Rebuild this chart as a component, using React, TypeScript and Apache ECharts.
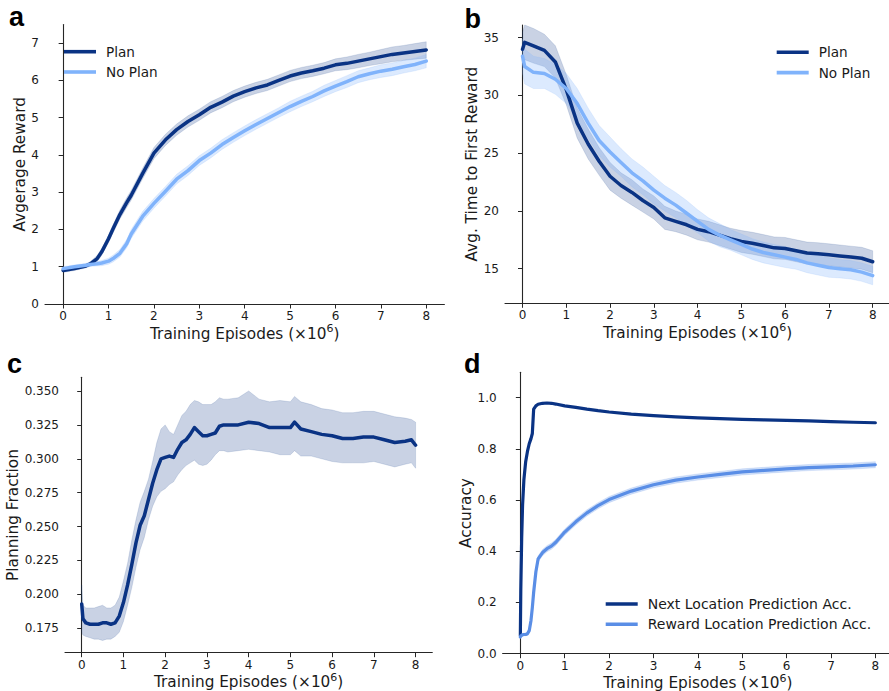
import React, { useEffect, useRef } from "react";
import * as echarts from "echarts";

// ---------- tick values ----------
const X_TICKS = [0, 1, 2, 3, 4, 5, 6, 7, 8];
const A_Y_TICKS = [0, 1, 2, 3, 4, 5, 6, 7];
const B_Y_TICKS = [15, 20, 25, 30, 35];
const C_Y_TICKS = [0.175, 0.2, 0.225, 0.25, 0.275, 0.3, 0.325, 0.35];
const D_Y_TICKS = [0, 0.2, 0.4, 0.6, 0.8, 1.0];

// ---------- panel a: average reward ----------
const aX = [0, 0.25, 0.5, 0.6, 0.75, 0.85, 1, 1.1, 1.25, 1.4, 1.5, 1.75, 2, 2.25, 2.5, 2.75, 3, 3.25, 3.5, 3.75, 4, 4.25, 4.5, 4.75, 5, 5.25, 5.5, 5.75, 6, 6.25, 6.5, 6.75, 7, 7.25, 7.5, 7.75, 8];
const aPlan = [0.9, 0.95, 1.02, 1.08, 1.22, 1.4, 1.75, 2.02, 2.4, 2.72, 2.92, 3.5, 4.05, 4.4, 4.68, 4.9, 5.08, 5.28, 5.42, 5.58, 5.7, 5.8, 5.88, 6.0, 6.12, 6.2, 6.26, 6.33, 6.42, 6.46, 6.52, 6.58, 6.64, 6.7, 6.74, 6.78, 6.82];
const aPlanSpread = [0.05, 0.05, 0.05, 0.06, 0.08, 0.09, 0.1, 0.11, 0.12, 0.13, 0.13, 0.14, 0.15, 0.15, 0.15, 0.15, 0.15, 0.15, 0.15, 0.15, 0.15, 0.15, 0.15, 0.15, 0.15, 0.15, 0.15, 0.15, 0.16, 0.17, 0.18, 0.18, 0.19, 0.2, 0.2, 0.21, 0.22];
const aNoPlan = [0.95, 1.0, 1.04, 1.06, 1.08, 1.1, 1.15, 1.22, 1.36, 1.62, 1.88, 2.35, 2.7, 3.02, 3.35, 3.58, 3.85, 4.05, 4.28, 4.47, 4.65, 4.82, 4.98, 5.14, 5.3, 5.44, 5.57, 5.72, 5.85, 5.97, 6.1, 6.18, 6.25, 6.3, 6.37, 6.43, 6.52];
const aNoPlanSpread = [0.05, 0.05, 0.05, 0.05, 0.06, 0.07, 0.08, 0.09, 0.1, 0.11, 0.12, 0.13, 0.13, 0.13, 0.13, 0.13, 0.13, 0.13, 0.13, 0.13, 0.13, 0.13, 0.13, 0.13, 0.14, 0.14, 0.14, 0.15, 0.15, 0.16, 0.16, 0.16, 0.17, 0.17, 0.17, 0.17, 0.18];

// ---------- panel b: time to first reward ----------
const bX = [0, 0.05, 0.25, 0.5, 0.75, 1, 1.25, 1.5, 1.75, 2, 2.25, 2.5, 2.75, 3, 3.25, 3.5, 3.75, 4, 4.25, 4.5, 4.75, 5, 5.25, 5.5, 5.75, 6, 6.25, 6.5, 6.75, 7, 7.25, 7.5, 7.75, 8];
const bPlan = [34.0, 34.6, 34.3, 33.9, 32.9, 30.5, 27.6, 25.8, 24.3, 23.0, 22.2, 21.6, 20.9, 20.3, 19.4, 19.1, 18.8, 18.4, 18.2, 17.9, 17.6, 17.35, 17.2, 17.0, 16.8, 16.75, 16.55, 16.35, 16.3, 16.2, 16.1, 16.0, 15.9, 15.6];
const bPlanSpread = [1.5, 1.5, 1.5, 1.4, 1.4, 1.3, 1.3, 1.3, 1.2, 1.2, 1.1, 1.1, 1.0, 1.0, 1.0, 0.9, 0.9, 0.9, 0.9, 0.9, 0.9, 0.95, 0.95, 0.95, 0.95, 0.95, 0.95, 0.95, 0.95, 0.95, 0.95, 0.95, 0.95, 0.95];
const bNoPlan = [33.4, 32.5, 32.0, 31.9, 31.4, 30.6, 29.3, 27.6, 26.1, 25.1, 24.2, 23.3, 22.6, 21.8, 21.1, 20.5, 19.8, 19.1, 18.4, 17.9, 17.5, 17.1, 16.7, 16.4, 16.2, 16.0, 15.8, 15.5, 15.3, 15.1, 15.0, 14.9, 14.7, 14.4];
const bNoPlanSpread = [1.5, 1.5, 1.4, 1.3, 1.3, 1.3, 1.3, 1.3, 1.3, 1.3, 1.2, 1.2, 1.2, 1.2, 1.1, 1.1, 1.1, 1.0, 1.0, 1.0, 0.9, 0.9, 0.9, 0.9, 0.9, 0.9, 0.85, 0.85, 0.85, 0.85, 0.8, 0.8, 0.8, 0.8];

// ---------- panel c: planning fraction ----------
const cX = [0, 0.03, 0.1, 0.2, 0.3, 0.4, 0.5, 0.6, 0.7, 0.8, 0.9, 1.0, 1.1, 1.2, 1.3, 1.4, 1.5, 1.6, 1.7, 1.8, 1.9, 2.0, 2.1, 2.2, 2.3, 2.4, 2.5, 2.6, 2.7, 2.8, 2.9, 3.0, 3.1, 3.2, 3.3, 3.4, 3.5, 3.75, 4.0, 4.25, 4.5, 4.75, 5.0, 5.1, 5.25, 5.5, 5.75, 6.0, 6.25, 6.5, 6.75, 7.0, 7.25, 7.5, 7.75, 7.9, 8.0];
const cMean = [0.193, 0.182, 0.179, 0.178, 0.178, 0.178, 0.179, 0.179, 0.178, 0.179, 0.184, 0.194, 0.207, 0.222, 0.238, 0.251, 0.258, 0.27, 0.282, 0.292, 0.3, 0.301, 0.302, 0.301, 0.307, 0.312, 0.314, 0.318, 0.323, 0.32, 0.317, 0.317, 0.318, 0.319, 0.324, 0.325, 0.325, 0.325, 0.327, 0.326, 0.323, 0.323, 0.323, 0.327, 0.322, 0.32, 0.318, 0.317, 0.315, 0.315, 0.316, 0.316, 0.314, 0.312, 0.313, 0.314, 0.31];
const cUpper = [0.207, 0.192, 0.19, 0.19, 0.19, 0.191, 0.192, 0.19, 0.19, 0.192, 0.198, 0.21, 0.223, 0.24, 0.255, 0.268, 0.276, 0.285, 0.298, 0.312, 0.322, 0.325, 0.32, 0.318, 0.325, 0.332, 0.335, 0.34, 0.343, 0.342, 0.34, 0.34, 0.34, 0.342, 0.345, 0.344, 0.344, 0.345, 0.35, 0.344, 0.342, 0.343, 0.342, 0.346, 0.342, 0.34, 0.337, 0.336, 0.334, 0.334, 0.335, 0.335, 0.333, 0.331, 0.33, 0.329, 0.327];
const cLower = [0.172, 0.17, 0.169, 0.168, 0.167, 0.167, 0.166, 0.167, 0.167, 0.169, 0.172, 0.18, 0.192, 0.205, 0.22, 0.233, 0.242, 0.255, 0.265, 0.272, 0.276, 0.278, 0.281, 0.283, 0.288, 0.292, 0.295, 0.297, 0.299, 0.296, 0.295, 0.296, 0.299, 0.303, 0.306, 0.306, 0.305, 0.306, 0.307, 0.306, 0.305, 0.303, 0.303, 0.306, 0.302, 0.302, 0.3, 0.298, 0.297, 0.297, 0.297, 0.298, 0.296, 0.294, 0.296, 0.297, 0.293];

// ---------- panel d: accuracy ----------
const dX = [0, 0.01, 0.03, 0.05, 0.08, 0.12, 0.16, 0.2, 0.24, 0.27, 0.3, 0.35, 0.4, 0.5, 0.6, 0.7, 0.8, 1.0, 1.25, 1.5, 1.75, 2.0, 2.5, 3.0, 3.5, 4.0, 4.5, 5.0, 5.5, 6.0, 6.5, 7.0, 7.5, 8.0];
const dNext = [0.07, 0.25, 0.45, 0.58, 0.68, 0.75, 0.79, 0.82, 0.84, 0.86, 0.955, 0.968, 0.974, 0.978, 0.979, 0.978, 0.975, 0.968, 0.962, 0.955, 0.949, 0.944, 0.936, 0.93, 0.925, 0.921, 0.918, 0.915, 0.913, 0.911, 0.909, 0.906, 0.904, 0.902];
const dReward = [0.065, 0.07, 0.072, 0.074, 0.075, 0.075, 0.078, 0.09, 0.13, 0.18, 0.24, 0.32, 0.37, 0.395, 0.41, 0.42, 0.435, 0.475, 0.515, 0.55, 0.578, 0.602, 0.635, 0.66, 0.678, 0.69, 0.7, 0.71, 0.716, 0.722, 0.727, 0.73, 0.733, 0.738];
const dRewardSpread = [0.005, 0.005, 0.005, 0.005, 0.005, 0.005, 0.006, 0.008, 0.01, 0.01, 0.012, 0.012, 0.012, 0.012, 0.012, 0.012, 0.012, 0.012, 0.012, 0.012, 0.012, 0.012, 0.012, 0.012, 0.012, 0.012, 0.012, 0.012, 0.012, 0.012, 0.012, 0.012, 0.012, 0.012];

const SERIES_NAMES_AB = ["Plan", "No Plan"];
const SERIES_NAMES_D = ["Next Location Prediction Acc.", "Reward Location Prediction Acc."];
const X_NAME = "Training Episodes (×10{s|6})";
const Y_NAMES = ["Avgerage Reward", "Avg. Time to First Reward", "Planning Fraction", "Accuracy"];

const DARK = "#0a3384";
const LIGHT = "#80b3fb";
const MID = "#5a8ee6";
const DARK_BAND = "rgba(10,51,132,0.22)";
const LIGHT_BAND = "rgba(128,179,251,0.28)";
const MID_BAND = "rgba(90,142,230,0.28)";
const FONT = "DejaVu Sans";
const AXIS_COLOR = "#262626";
const TEXT_COLOR = "#1a1a1a";

function pairs(xs: number[], ys: number[]) {
  return xs.map((x, i) => [x, ys[i]]);
}

function band(idx: number, xs: number[], lo: number[], hi: number[], fill: string) {
  return {
    type: "custom",
    xAxisIndex: idx,
    yAxisIndex: idx,
    silent: true,
    z: 1,
    data: xs.map((x, i) => [x, lo[i], hi[i]]),
    encode: { x: 0, y: [1, 2] },
    renderItem: (params: any, api: any) => {
      if (params.dataIndex !== 0) return null;
      const top = xs.map((x, i) => api.coord([x, hi[i]]));
      const bot = xs.map((x, i) => api.coord([x, lo[i]])).reverse();
      return {
        type: "polygon",
        shape: { points: top.concat(bot) },
        style: { fill, stroke: fill, lineWidth: 0.6 },
      };
    },
  };
}

function line(idx: number, name: string, xs: number[], ys: number[], color: string, width = 3.5) {
  return {
    type: "line",
    name,
    xAxisIndex: idx,
    yAxisIndex: idx,
    data: pairs(xs, ys),
    showSymbol: false,
    symbol: "none",
    z: 3,
    lineStyle: { color, width, join: "round", cap: "round" },
    itemStyle: { color },
  };
}

function minus(a: number[], s: number[]) {
  return a.map((v, i) => v - s[i]);
}
function plus(a: number[], s: number[]) {
  return a.map((v, i) => v + s[i]);
}

function xAxis(idx: number) {
  return {
    type: "value",
    gridIndex: idx,
    min: -0.4,
    max: 8.4,
    splitLine: { show: false },
    axisLine: { show: true, lineStyle: { color: AXIS_COLOR, width: 1.1 } },
    axisTick: { show: true, customValues: X_TICKS, length: 4.5, lineStyle: { color: AXIS_COLOR, width: 1 } },
    axisLabel: { customValues: X_TICKS, fontSize: 12, color: TEXT_COLOR, fontFamily: FONT, margin: 6 },
    name: X_NAME,
    nameLocation: "middle",
    nameGap: 19,
    nameTextStyle: {
      fontSize: 15.3,
      color: TEXT_COLOR,
      fontFamily: FONT,
      rich: {
        s: { fontSize: 11, color: TEXT_COLOR, fontFamily: FONT, padding: [0, 0, 10, 0] },
      },
    },
  };
}

function yAxis(idx: number, min: number, max: number, ticks: number[], decimals: number, nameGap: number) {
  return {
    type: "value",
    gridIndex: idx,
    min,
    max,
    splitLine: { show: false },
    axisLine: { show: true, lineStyle: { color: AXIS_COLOR, width: 1.1 } },
    axisTick: { show: true, customValues: ticks, length: 4.5, lineStyle: { color: AXIS_COLOR, width: 1 } },
    axisLabel: {
      customValues: ticks,
      fontSize: 12,
      color: TEXT_COLOR,
      fontFamily: FONT,
      margin: 6,
      formatter: (v: number) => v.toFixed(decimals),
    },
    name: Y_NAMES[idx],
    nameLocation: "middle",
    nameGap,
    nameTextStyle: { fontSize: 15.3, color: TEXT_COLOR, fontFamily: FONT },
  };
}

function legend(names: string[], left: number, top: number, fontSize: number) {
  return {
    data: names,
    orient: "vertical",
    left,
    top,
    padding: 0,
    itemGap: 4.3,
    itemWidth: 32,
    itemHeight: 3.6,
    icon: "rect",
    selectedMode: false,
    textStyle: { fontSize, color: TEXT_COLOR, fontFamily: FONT, lineHeight: 16, padding: [0, 0, 0, 5] },
  };
}

function letter(t: string, x: number, y: number) {
  return {
    type: "text",
    x,
    y,
    style: {
      text: t,
      fill: "#000",
      font: 'bold 27px "Liberation Sans"',
      verticalAlign: "bottom",
      align: "left",
    },
  };
}

export default function App() {
  const ref = useRef<HTMLDivElement>(null);
  useEffect(() => {
    if (!ref.current) return;
    const chart = echarts.init(ref.current, undefined, { renderer: "svg" });
    const option: any = {
      animation: false,
      backgroundColor: "#ffffff",
      grid: [
        { left: 45, top: 24.6, width: 399.4, height: 279.4, outerBoundsMode: "none" },
        { left: 505, top: 25, width: 385.2, height: 278.3, outerBoundsMode: "none" },
        { left: 65, top: 377.3, width: 367.3, height: 275.4, outerBoundsMode: "none" },
        { left: 502.6, top: 372.3, width: 390.5, height: 281.4, outerBoundsMode: "none" },
      ],
      xAxis: [xAxis(0), xAxis(1), xAxis(2), xAxis(3)],
      yAxis: [
        yAxis(0, 0, 7.5, A_Y_TICKS, 0, 17),
        yAxis(1, 12, 36.1, B_Y_TICKS, 0, 25),
        yAxis(2, 0.157, 0.3601, C_Y_TICKS, 3, 44),
        yAxis(3, 0, 1.099, D_Y_TICKS, 1, 29),
      ],
      legend: [
        legend(SERIES_NAMES_AB, 64, 43.7, 13.6),
        legend(SERIES_NAMES_AB, 776.7, 44.3, 13.6),
        legend(SERIES_NAMES_D, 605.7, 596, 14),
      ],
      graphic: [letter("a", 9, 30), letter("b", 464.5, 32.5), letter("c", 7, 377), letter("d", 464, 377)],
      series: [
        band(0, aX, minus(aPlan, aPlanSpread), plus(aPlan, aPlanSpread), DARK_BAND),
        band(0, aX, minus(aNoPlan, aNoPlanSpread), plus(aNoPlan, aNoPlanSpread), LIGHT_BAND),
        line(0, "Plan", aX, aPlan, DARK),
        line(0, "No Plan", aX, aNoPlan, LIGHT),
        band(1, bX, minus(bPlan, bPlanSpread), plus(bPlan, bPlanSpread), DARK_BAND),
        band(1, bX, minus(bNoPlan, bNoPlanSpread), plus(bNoPlan, bNoPlanSpread), LIGHT_BAND),
        line(1, "Plan", bX, bPlan, DARK),
        line(1, "No Plan", bX, bNoPlan, LIGHT),
        band(2, cX, cLower, cUpper, DARK_BAND),
        line(2, "Planning", cX, cMean, DARK),
        band(3, dX, minus(dReward, dRewardSpread), plus(dReward, dRewardSpread), MID_BAND),
        line(3, SERIES_NAMES_D[0], dX, dNext, DARK, 3.2),
        line(3, SERIES_NAMES_D[1], dX, dReward, MID, 3.2),
      ],
    };
    chart.setOption(option);
    return () => chart.dispose();
  }, []);
  return (
    <div
      ref={ref}
      style={{ position: "absolute", left: 0, top: 0, width: 889, height: 691, background: "#fff" }}
    />
  );
}
